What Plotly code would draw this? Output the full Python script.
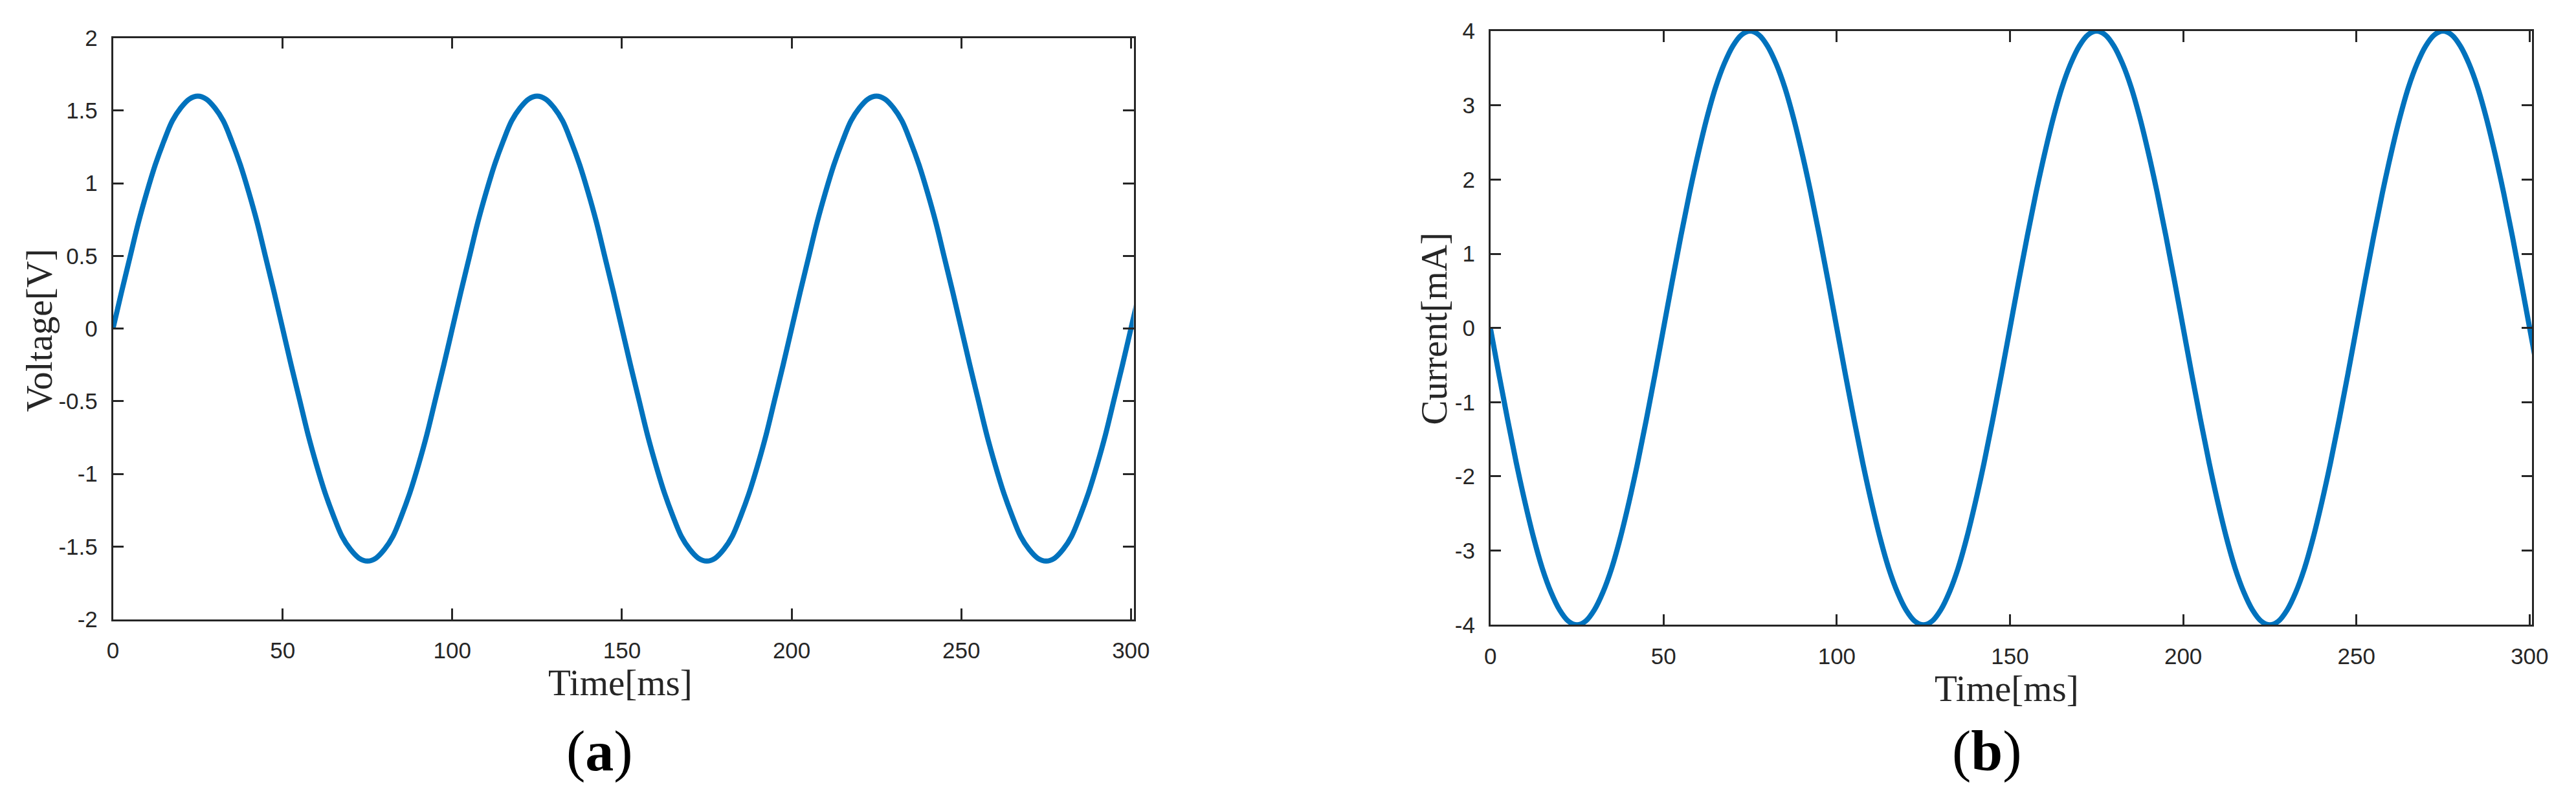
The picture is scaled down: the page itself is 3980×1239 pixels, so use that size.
import plotly.graph_objects as go

# ---- data ----
time_ms = [0, 2.5, 5, 7.5, 10, 12.5, 15, 17.5, 20, 22.5, 25, 27.5, 30, 32.5, 35, 37.5, 40, 42.5, 45, 47.5,
           50, 52.5, 55, 57.5, 60, 62.5, 65, 67.5, 70, 72.5, 75, 77.5, 80, 82.5, 85, 87.5, 90, 92.5, 95, 97.5,
           100, 102.5, 105, 107.5, 110, 112.5, 115, 117.5, 120, 122.5, 125, 127.5, 130, 132.5, 135, 137.5, 140, 142.5, 145, 147.5,
           150, 152.5, 155, 157.5, 160, 162.5, 165, 167.5, 170, 172.5, 175, 177.5, 180, 182.5, 185, 187.5, 190, 192.5, 195, 197.5,
           200, 202.5, 205, 207.5, 210, 212.5, 215, 217.5, 220, 222.5, 225, 227.5, 230, 232.5, 235, 237.5, 240, 242.5, 245, 247.5,
           250, 252.5, 255, 257.5, 260, 262.5, 265, 267.5, 270, 272.5, 275, 277.5, 280, 282.5, 285, 287.5, 290, 292.5, 295, 297.5,
           300, 302.5]
voltage_V = [0.00, 0.25, 0.49, 0.73, 0.94, 1.13, 1.29, 1.43, 1.52, 1.58, 1.60, 1.58, 1.52, 1.43, 1.29, 1.13, 0.94, 0.73, 0.49, 0.25,
             0.00, -0.25, -0.49, -0.73, -0.94, -1.13, -1.29, -1.43, -1.52, -1.58, -1.60, -1.58, -1.52, -1.43, -1.29, -1.13, -0.94, -0.73, -0.49, -0.25,
             0.00, 0.25, 0.49, 0.73, 0.94, 1.13, 1.29, 1.43, 1.52, 1.58, 1.60, 1.58, 1.52, 1.43, 1.29, 1.13, 0.94, 0.73, 0.49, 0.25,
             0.00, -0.25, -0.49, -0.73, -0.94, -1.13, -1.29, -1.43, -1.52, -1.58, -1.60, -1.58, -1.52, -1.43, -1.29, -1.13, -0.94, -0.73, -0.49, -0.25,
             0.00, 0.25, 0.49, 0.73, 0.94, 1.13, 1.29, 1.43, 1.52, 1.58, 1.60, 1.58, 1.52, 1.43, 1.29, 1.13, 0.94, 0.73, 0.49, 0.25,
             0.00, -0.25, -0.49, -0.73, -0.94, -1.13, -1.29, -1.43, -1.52, -1.58, -1.60, -1.58, -1.52, -1.43, -1.29, -1.13, -0.94, -0.73, -0.49, -0.25,
             0.00, 0.25]
current_mA = [0.00, -0.63, -1.24, -1.82, -2.35, -2.83, -3.24, -3.56, -3.80, -3.95, -4.00, -3.95, -3.80, -3.56, -3.24, -2.83, -2.35, -1.82, -1.24, -0.63,
              0.00, 0.63, 1.24, 1.82, 2.35, 2.83, 3.24, 3.56, 3.80, 3.95, 4.00, 3.95, 3.80, 3.56, 3.24, 2.83, 2.35, 1.82, 1.24, 0.63,
              0.00, -0.63, -1.24, -1.82, -2.35, -2.83, -3.24, -3.56, -3.80, -3.95, -4.00, -3.95, -3.80, -3.56, -3.24, -2.83, -2.35, -1.82, -1.24, -0.63,
              0.00, 0.63, 1.24, 1.82, 2.35, 2.83, 3.24, 3.56, 3.80, 3.95, 4.00, 3.95, 3.80, 3.56, 3.24, 2.83, 2.35, 1.82, 1.24, 0.63,
              0.00, -0.63, -1.24, -1.82, -2.35, -2.83, -3.24, -3.56, -3.80, -3.95, -4.00, -3.95, -3.80, -3.56, -3.24, -2.83, -2.35, -1.82, -1.24, -0.63,
              0.00, 0.63, 1.24, 1.82, 2.35, 2.83, 3.24, 3.56, 3.80, 3.95, 4.00, 3.95, 3.80, 3.56, 3.24, 2.83, 2.35, 1.82, 1.24, 0.63,
              0.00, -0.63]

x_ticks = [0, 50, 100, 150, 200, 250, 300]
x_tick_labels = ["0", "50", "100", "150", "200", "250", "300"]
v_ticks = [-2, -1.5, -1, -0.5, 0, 0.5, 1, 1.5, 2]
v_tick_labels = ["-2", "-1.5", "-1", "-0.5", "0", "0.5", "1", "1.5", "2"]
i_ticks = [-4, -3, -2, -1, 0, 1, 2, 3, 4]
i_tick_labels = ["-4", "-3", "-2", "-1", "0", "1", "2", "3", "4"]

W, H = 3980, 1239
LINE_COLOR = "#0072BD"
AX_COLOR = "#262626"
TICK_FONT = dict(family="Liberation Sans, Arial, Helvetica", size=35, color=AX_COLOR)
SERIF = "Liberation Serif, Times New Roman, serif"


def px_x(p):
    return p / W


def px_y(p):
    return 1 - p / H


fig = go.Figure()
fig.add_trace(go.Scatter(x=time_ms, y=voltage_V, mode="lines", xaxis="x", yaxis="y",
                         line=dict(color=LINE_COLOR, width=8, shape="spline", smoothing=1.0),
                         showlegend=False, hoverinfo="skip"))
fig.add_trace(go.Scatter(x=time_ms, y=current_mA, mode="lines", xaxis="x2", yaxis="y2",
                         line=dict(color=LINE_COLOR, width=8, shape="spline", smoothing=1.0),
                         showlegend=False, hoverinfo="skip"))

common = dict(showline=True, linecolor=AX_COLOR, linewidth=2.5, mirror="ticks",
              ticks="inside", ticklen=17, tickwidth=2.5, tickcolor=AX_COLOR,
              showgrid=False, zeroline=False, tickfont=TICK_FONT, tickmode="array")

fig.update_layout(
    width=W, height=H, margin=dict(l=0, r=0, t=0, b=0),
    paper_bgcolor="white", plot_bgcolor="white",
    xaxis=dict(domain=[px_x(166), px_x(1757)], range=[0, 300.8], anchor="y",
               tickvals=x_ticks, ticktext=x_tick_labels, ticklabelstandoff=16, **common),
    yaxis=dict(domain=[px_y(967), px_y(40)], range=[-2, 2], anchor="x",
               tickvals=v_ticks, ticktext=v_tick_labels, ticklabelstandoff=14, **common),
    xaxis2=dict(domain=[px_x(2313), px_x(3937)], range=[0, 300.75], anchor="y2",
                tickvals=x_ticks, ticktext=x_tick_labels, ticklabelstandoff=16, **common),
    yaxis2=dict(domain=[px_y(976), px_y(29)], range=[-4, 4], anchor="x2",
                tickvals=i_ticks, ticktext=i_tick_labels, ticklabelstandoff=14, **common),
)

title_font = dict(family=SERIF, size=57, color=AX_COLOR)
label_font = dict(family=SERIF, size=88, color="#000000")
annots = [
    dict(text="Time[ms]", x=px_x(957), y=px_y(1068), font=title_font),
    dict(text="Time[ms]", x=px_x(3118), y=px_y(1077), font=title_font),
    dict(text="Voltage[V]", x=px_x(50), y=px_y(507), font=title_font, textangle=-90),
    dict(text="Current[mA]", x=px_x(2225), y=px_y(503), font=title_font, textangle=-90),
    dict(text="(<b>a</b>)", x=px_x(925), y=px_y(1178), font=label_font),
    dict(text="(<b>b</b>)", x=px_x(3087), y=px_y(1178), font=label_font),
]
for a in annots:
    fig.add_annotation(xref="paper", yref="paper", showarrow=False,
                       xanchor="center", yanchor="middle", **a)

fig.write_html("out.html", config={"displayModeBar": False},
               post_script="document.body.style.margin='0';document.body.style.overflow='hidden';")
